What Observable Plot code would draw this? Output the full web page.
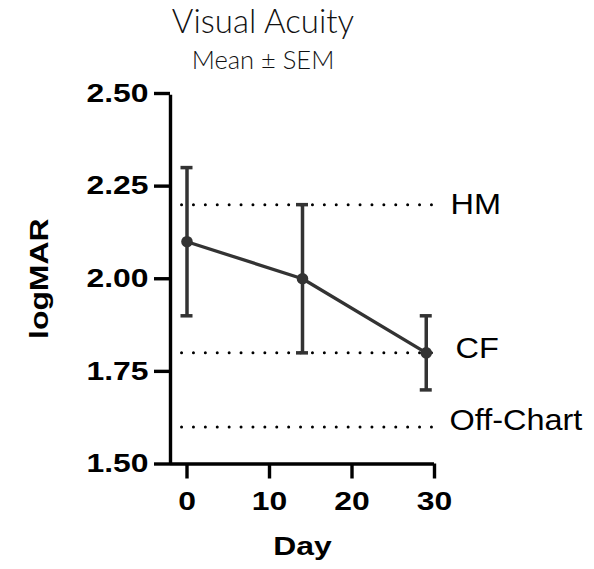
<!DOCTYPE html>
<html>
<head>
<meta charset="utf-8">
<script src="https://cdn.jsdelivr.net/npm/d3@7"></script>
<script src="https://cdn.jsdelivr.net/npm/@observablehq/plot@0.6"></script>
<style>
  body { margin: 0; background: #fff; }
  #wrap { position: relative; width: 594px; height: 569px; overflow: hidden; }
  .title { position: absolute; left: 0; width: 526px; text-align: center; font-family: Lato, sans-serif; font-weight: 300; color: #111; white-space: nowrap; }
  #chart { position: absolute; left: 0; top: 80px; }
</style>
</head>
<body>
<div id="wrap">
  <div class="title" style="top:4px;font-size:33px;line-height:33px;">Visual Acuity</div>
  <div class="title" style="top:47px;font-size:25.5px;line-height:25.5px;">Mean ± SEM</div>
  <div id="chart"></div>
</div>
<script>
// ---- data ----
const days = [0, 14, 29];
const means = [2.10, 2.00, 1.80];
const sems = [0.20, 0.20, 0.10];
const refValues = [2.2, 1.8, 1.6];
const refLabels = ["HM", "CF", "Off-Chart"];
const xTicks = [0, 10, 20, 30];
const yTicks = [1.5, 1.75, 2.0, 2.25, 2.5];
const xDomain = [-2, 30];
const yDomain = [1.5, 2.5];
const refExtent = [-0.6, 29.7];

const data = days.map((d, i) => ({day: d, mean: means[i], lo: means[i] - sems[i], hi: means[i] + sems[i]}));
const refs = refValues.map((v, i) => ({y: v, label: refLabels[i]}));
const refDy = [0, -4, -6];
const refDx = [16, 21, 15];

const ink = "#333";
const sans = "'Liberation Sans', Arial, sans-serif";

const W = 594, H = 489;
const plot = Plot.plot({
  width: W,
  height: H,
  marginLeft: 170,
  marginRight: 160,
  marginTop: 13,
  marginBottom: H - 383.5,
  style: {fontFamily: sans, background: "#fff", overflow: "visible"},
  x: {domain: xDomain, label: null, axis: null},
  y: {domain: yDomain, label: null, axis: null},
  marks: [
    Plot.ruleY(refs, {y: "y", x1: refExtent[0], x2: refExtent[1], stroke: "#000", strokeWidth: 3, strokeDasharray: "0,11.9", strokeLinecap: "round"}),
    ...refs.map((r, i) => Plot.text([r], {x: xDomain[1], y: "y", text: "label", textAnchor: "start", dx: refDx[i], dy: refDy[i], fontSize: 29.5, fill: "#000"})),
    Plot.axisY({ticks: yTicks, tickFormat: d3.format(".2f"), tickSize: 16, tickPadding: 6, fontSize: 25.5, fontWeight: "bold", strokeWidth: 3.4, stroke: "#000", fill: "#000", label: null}),
    Plot.axisX({ticks: xTicks, tickSize: 15, tickPadding: 13, fontSize: 25.5, fontWeight: "bold", strokeWidth: 3.4, stroke: "#000", fill: "#000", label: null}),
    Plot.ruleX([xDomain[0]], {y1: yDomain[0], y2: yDomain[1], stroke: "#000", strokeWidth: 3.4, insetBottom: -1.7}),
    Plot.ruleY([yDomain[0]], {x1: xDomain[0], x2: xDomain[1], stroke: "#000", strokeWidth: 3.4}),
    Plot.text(["Day"], {frameAnchor: "bottom", dy: 91, fontSize: 25.5, fontWeight: "bold", fill: "#000"}),
    Plot.text(["logMAR"], {frameAnchor: "left", textAnchor: "middle", dx: -131, rotate: -90, fontSize: 25.5, fontWeight: "bold", fill: "#000"}),
    Plot.ruleX(data, {x: "day", y1: "lo", y2: "hi", stroke: ink, strokeWidth: 3.5}),
    Plot.ruleY(data, {y: "lo", x1: "day", x2: "day", insetLeft: -6, insetRight: -6, stroke: ink, strokeWidth: 3.5}),
    Plot.ruleY(data, {y: "hi", x1: "day", x2: "day", insetLeft: -6, insetRight: -6, stroke: ink, strokeWidth: 3.5}),
    Plot.line(data, {x: "day", y: "mean", stroke: ink, strokeWidth: 3.3}),
    Plot.dot(data, {x: "day", y: "mean", r: 5.8, fill: ink, stroke: "none"})
  ]
});

document.getElementById("chart").appendChild(plot);
plot.querySelectorAll("text").forEach(t => {
  const s = t.textContent.trim();
  let sx = 1;
  if (refLabels.includes(s)) sx = 1.1;
  else if (s === "Day" || s === "logMAR" || /^[0-9.]+$/.test(s)) sx = 1.25;
  if (sx === 1) return;
  const x = parseFloat(t.getAttribute("x")) || 0;
  const tr = t.getAttribute("transform") || "";
  t.setAttribute("transform", `${tr} translate(${x},0) scale(${sx},1) translate(${-x},0)`);
});
</script>
</body>
</html>
